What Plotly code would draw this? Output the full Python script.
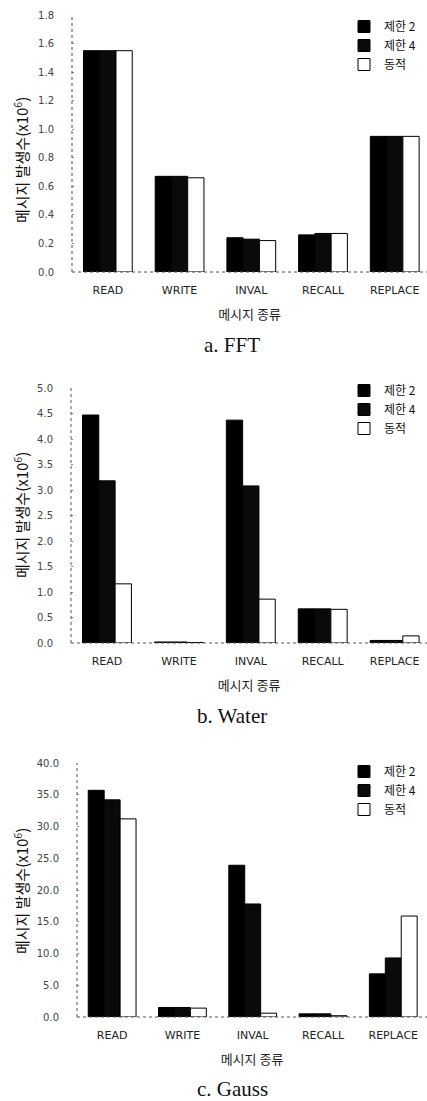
import plotly.graph_objects as go

categories = ["READ", "WRITE", "INVAL", "RECALL", "REPLACE"]
series_names = ["제한 2", "제한 4", "동적"]

fft_lim2 = [1.55, 0.67, 0.24, 0.26, 0.95]
fft_lim4 = [1.55, 0.67, 0.23, 0.27, 0.95]
fft_dyn = [1.55, 0.66, 0.22, 0.27, 0.95]

water_lim2 = [4.47, 0.02, 4.37, 0.67, 0.05]
water_lim4 = [3.18, 0.02, 3.08, 0.67, 0.05]
water_dyn = [1.16, 0.01, 0.86, 0.66, 0.14]

gauss_lim2 = [35.7, 1.5, 23.9, 0.5, 6.8]
gauss_lim4 = [34.2, 1.5, 17.8, 0.5, 9.3]
gauss_dyn = [31.2, 1.4, 0.6, 0.2, 15.9]

fft_ticks = [0.0, 0.2, 0.4, 0.6, 0.8, 1.0, 1.2, 1.4, 1.6, 1.8]
water_ticks = [0.0, 0.5, 1.0, 1.5, 2.0, 2.5, 3.0, 3.5, 4.0, 4.5, 5.0]
gauss_ticks = [0.0, 5.0, 10.0, 15.0, 20.0, 25.0, 30.0, 35.0, 40.0]

W, H = 427, 1101
KR = "Noto Sans CJK KR"
SANS = "DejaVu Sans"
SERIF = "Liberation Serif"

fig = go.Figure()

panels = [
    # data, ticks, ymax, y_top_px, y_bot_px, x_left_px, xmax, suffix, legend, subtitle, subtitle_y, ytitle_y, legend_mid_y
    ((fft_lim2, fft_lim4, fft_dyn), fft_ticks, 1.8, 15, 272, 72, 4.45, "", "legend", "a. FFT", 345, 160, 45),
    ((water_lim2, water_lim4, water_dyn), water_ticks, 5.0, 388, 643, 71, 4.45, "2", "legend2", "b. Water", 716, 515, 409),
    ((gauss_lim2, gauss_lim4, gauss_dyn), gauss_ticks, 40.0, 763, 1017, 77, 4.48, "3", "legend3", "c. Gauss", 1089, 891, 790),
]

colors = ["#000000", "#0a0a0a", "#ffffff"]

annotations = []
shapes = []
for (data, ticks, ymax, ytop, ybot, xleft, xmax, sfx, leg, subtitle, sub_y, yt_y, leg_mid) in panels:
    xa = "x" + sfx
    ya = "y" + sfx
    for name, vals, col in zip(series_names, data, colors):
        fig.add_trace(go.Bar(
            x=categories, y=vals, name=name,
            marker=dict(color=col, line=dict(color="#000000", width=1)),
            xaxis=xa, yaxis=ya, legend=leg,
        ))
    ydom = [1 - ybot / H, 1 - ytop / H]
    xdom = [xleft / W, 1.0]
    fig.update_layout(**{
        "xaxis" + sfx: dict(
            domain=xdom, anchor=ya, range=[-0.5, xmax],
            showline=False, showgrid=False, ticks="",
            ticklabelstandoff=10, automargin=False,
            tickfont=dict(family=SANS, size=11, color="#222"),
            title=dict(text="메시지 종류", standoff=13,
                       font=dict(family=KR, size=13, color="#222")),
        ),
        "yaxis" + sfx: dict(
            domain=ydom, anchor=xa, range=[0, ymax],
            tickvals=ticks, tickformat=".1f",
            showline=False, showgrid=False, zeroline=False,
            ticks="inside", ticklen=2, tickcolor="#888",
            ticklabelstandoff=17, automargin=False,
            tickfont=dict(family=SANS, size=10, color="#444"),
        ),
        leg: dict(
            x=344 / W, xanchor="left",
            y=1 - (leg_mid - 33) / H, yanchor="top",
            font=dict(family=KR, size=12, color="#111"),
            bgcolor="rgba(0,0,0,0)", itemwidth=30,
            tracegroupgap=0, traceorder="normal",
        ),
    })
    shapes.append(dict(type="line", xref=xa + " domain", yref=ya + " domain",
                       x0=0, x1=0, y0=0, y1=1,
                       line=dict(color="#555", width=1, dash="dot")))
    shapes.append(dict(type="line", xref=xa + " domain", yref=ya + " domain",
                       x0=0, x1=1, y0=0, y1=0,
                       line=dict(color="#555", width=1, dash="dot")))
    annotations.append(dict(text=subtitle, xref="paper", yref="paper",
                            x=232 / W, y=1 - sub_y / H, xanchor="center", yanchor="middle",
                            showarrow=False, font=dict(family=SERIF, size=21, color="#111")))
    annotations.append(dict(text="메시지 발생수(x10<sup>6</sup>)", xref="paper", yref="paper",
                            x=21 / W, y=1 - yt_y / H, xanchor="center", yanchor="middle",
                            textangle=-90, showarrow=False,
                            font=dict(family=KR, size=15, color="#111")))

fig.update_layout(
    width=W, height=H,
    margin=dict(l=0, r=0, t=0, b=0, autoexpand=False),
    paper_bgcolor="white", plot_bgcolor="white",
    barmode="group", bargap=0.32, bargroupgap=0,
    annotations=annotations, shapes=shapes,
    showlegend=True,
)

fig.write_html("out.html", config={"displayModeBar": False},
               post_script="document.body.style.margin='0';")
